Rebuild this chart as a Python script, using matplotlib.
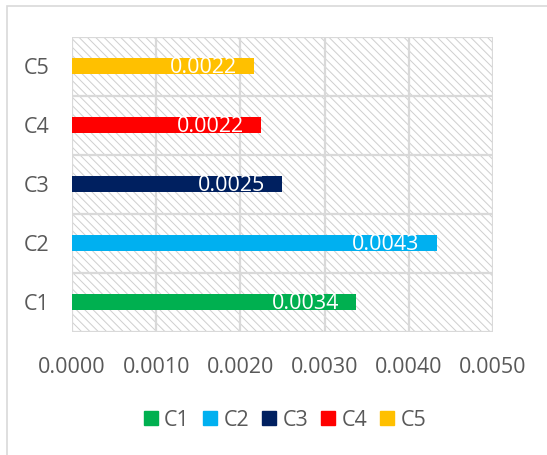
import matplotlib
matplotlib.use("Agg")
import matplotlib.pyplot as plt
from matplotlib.patches import Rectangle

# Chart data
categories = ["C1", "C2", "C3", "C4", "C5"]
values = [0.00337, 0.00433, 0.00249, 0.00224, 0.00216]
labels = ["0.0034", "0.0043", "0.0025", "0.0022", "0.0022"]
colors = ["#00B050", "#00B0F0", "#002060", "#FF0000", "#FFC000"]
xticks = [0.0, 0.001, 0.002, 0.003, 0.004, 0.005]
xtick_labels = ["0.0000", "0.0010", "0.0020", "0.0030", "0.0040", "0.0050"]

plt.rcParams['font.family'] = ['Open Sans', 'DejaVu Sans']
plt.rcParams['hatch.linewidth'] = 0.7
grey = "#d9d9d9"
txt = "#595959"
fs = 15.5

fig = plt.figure(figsize=(5.47, 4.55), dpi=100)
# outer chart border
fig.patches.append(Rectangle((7 / 547, -0.1), 1.2, 1 - 6 / 455 + 0.1, transform=fig.transFigure,
                             fill=False, edgecolor=grey, linewidth=1.2, figure=fig))

ax = fig.add_axes([72 / 547, 1 - 331.7 / 455, (493 - 72) / 547, (331.7 - 36.6) / 455])
ax.set_xlim(0, 0.005)
ax.set_ylim(-0.5, 4.5)

# hatched plot area background
ax.add_patch(Rectangle((0, 0), 1, 1, transform=ax.transAxes, facecolor="white",
                       edgecolor="#cfcfcf", hatch="\\\\\\\\", linewidth=0, zorder=0))

ypos = list(range(len(categories)))
bars = ax.barh(ypos, values, height=0.28, color=colors, zorder=3)

for b, lab in zip(bars, labels):
    ax.annotate(lab, xy=(b.get_width(), b.get_y() + b.get_height() / 2),
                xytext=(-12.2, -1), textcoords="offset points", ha="right", va="center",
                color="white", fontsize=fs, zorder=4)

# grid: vertical value lines and horizontal category boundaries
for x in xticks:
    ax.axvline(x, color=grey, linewidth=1.6, zorder=1)
for y in [-0.5, 0.5, 1.5, 2.5, 3.5, 4.5]:
    ax.axhline(y, color=grey, linewidth=1.6, zorder=1)

for s in ax.spines.values():
    s.set_visible(False)

ax.set_xticks(xticks)
ax.set_xticklabels(xtick_labels)
ax.set_yticks(ypos)
ax.set_yticklabels(categories)
ax.tick_params(axis="both", length=0, labelsize=fs, colors=txt)
ax.tick_params(axis="x", pad=18)
ax.tick_params(axis="y", pad=16)

handles = [Rectangle((0, 0), 1, 1, color=c) for c in colors]
leg = fig.legend(handles, categories, loc="center", bbox_to_anchor=(285 / 547, 1 - 420 / 455),
                 ncol=5, frameon=False, fontsize=fs, handlelength=0.65, handleheight=0.65,
                 handletextpad=0.3, columnspacing=0.6)
for t in leg.get_texts():
    t.set_color(txt)

fig.savefig("out.png", dpi=100)
